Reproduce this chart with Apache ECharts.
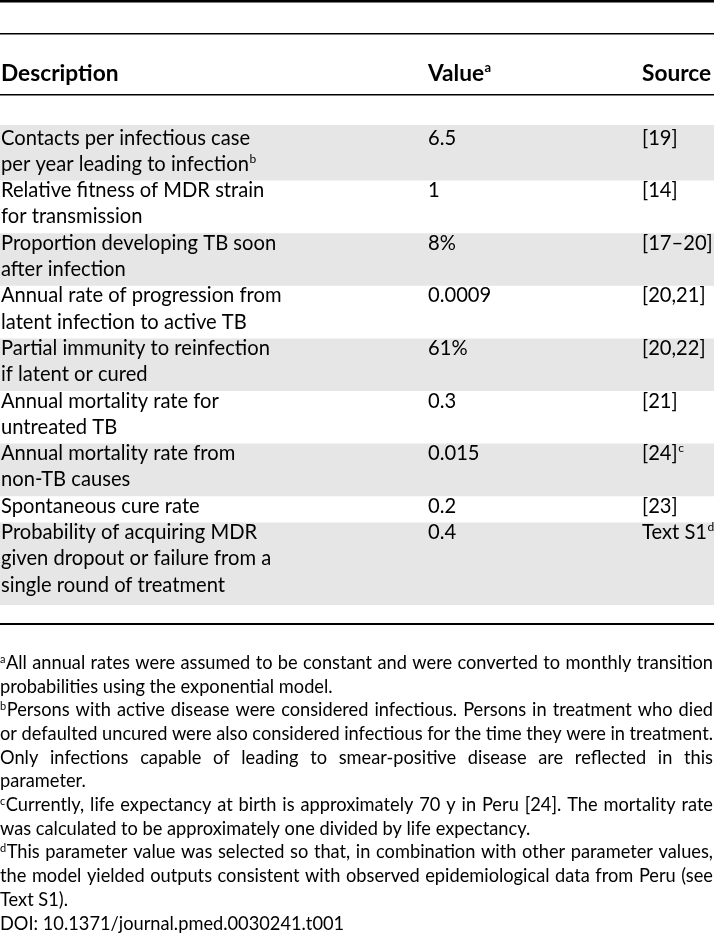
<!DOCTYPE html>
<html><head><meta charset="utf-8">
<script src="https://cdn.jsdelivr.net/npm/echarts@6/dist/echarts.min.js"></script>
<style>html,body{margin:0;padding:0;background:#fff}#c{width:714px;height:938px}</style>
</head><body><div id="c"></div><script>
// ---- table content ----
const headers = ["Description", "Value", "Source"];
const headerNotes = ["", "a", ""];
const descriptions = [
  "Contacts per infectious case\nper year leading to infection",
  "Relative fitness of MDR strain\nfor transmission",
  "Proportion developing TB soon\nafter infection",
  "Annual rate of progression from\nlatent infection to active TB",
  "Partial immunity to reinfection\nif latent or cured",
  "Annual mortality rate for\nuntreated TB",
  "Annual mortality rate from\nnon-TB causes",
  "Spontaneous cure rate",
  "Probability of acquiring MDR\ngiven dropout or failure from a\nsingle round of treatment"
];
const descNotes = ["b", "", "", "", "", "", "", "", ""];
const values = ["6.5", "1", "8%", "0.0009", "61%", "0.3", "0.015", "0.2", "0.4"];
const sources = ["[19]", "[14]", "[17\u201320]", "[20,21]", "[20,22]", "[21]", "[24]", "[23]", "Text S1"];
const sourceNotes = ["", "", "", "", "", "", "c", "", "d"];
const footnoteMarks = ["a", "b", "c", "d"];
const footnoteLines = [
  ["All annual rates were assumed to be constant and were converted to monthly transition",
   "probabilities using the exponential model."],
  ["Persons with active disease were considered infectious. Persons in treatment who died",
   "or defaulted uncured were also considered infectious for the time they were in treatment.",
   "Only infections capable of leading to smear-positive disease are reflected in this",
   "parameter."],
  ["Currently, life expectancy at birth is approximately 70 y in Peru [24]. The mortality rate",
   "was calculated to be approximately one divided by life expectancy."],
  ["This parameter value was selected so that, in combination with other parameter values,",
   "the model yielded outputs consistent with observed epidemiological data from Peru (see",
   "Text S1)."]
];
const doiText = "DOI: 10.1371/journal.pmed.0030241.t001";

// ---- layout helpers ----
const FONT = 'Lato, "Open Sans", sans-serif';
const W = 714;
const cv = document.createElement('canvas').getContext('2d');
function fontStr(size, weight) { return (weight || 'normal') + ' ' + size + 'px ' + FONT; }
function mw(t, size, weight) { cv.font = fontStr(size, weight); return cv.measureText(t).width; }
function midOffset(size, weight) {
  cv.font = fontStr(size, weight);
  const m = cv.measureText('Hg');
  return (m.fontBoundingBoxAscent - m.fontBoundingBoxDescent) / 2;
}
function fit(pairs, weight) {
  let r = 0;
  pairs.forEach(([t, w]) => { r += w / mw(t, 100, weight) * 100; });
  return r / pairs.length;
}
const tableSize = fit([["Contacts per infectious case", 248], ["Partial immunity to reinfection", 266], ["given dropout or failure from a", 275]]);
const headSize = fit([["Description", 118], ["Source", 69]], 'bold');
const footSize = fit([["probabilities using the exponential model.", 341], ["was calculated to be approximately one divided by life expectancy.", 546], [doiText, 326]]);
const supSize = 12;

const els = [];
function txt(t, x, baseline, size, weight) {
  els.push({
    type: 'text', x: x, y: baseline - midOffset(size, weight), silent: true,
    style: { text: t, fontSize: size, fontFamily: FONT, fontWeight: weight || 'normal', fill: '#000',
             align: 'left', verticalAlign: 'middle', textAlign: 'left', textVerticalAlign: 'middle' }
  });
  return x + mw(t, size, weight);
}
function rect(x, y, w, h, color) {
  els.push({ type: 'rect', silent: true, shape: { x: x, y: y, width: w, height: h }, style: { fill: color } });
}
function justify(line, x0, x1, baseline, size) {
  const words = line.split(' ');
  const widths = words.map(w => mw(w, size));
  const total = widths.reduce((a, b) => a + b, 0);
  const gap = (x1 - x0 - total) / (words.length - 1);
  let x = x0;
  words.forEach((w, i) => { txt(w, x, baseline, size); x += widths[i] + gap; });
}

// ---- table geometry ----
const colX = [1, 428, 642];
const LINE = 26.3, ROW0 = 128, BASE0 = 146;

// row shading
let lineIdx = 0;
descriptions.forEach((d, r) => {
  const n = d.split('\n').length;
  let top = ROW0 + LINE * lineIdx, bot = ROW0 + LINE * (lineIdx + n);
  if (r === 0) top = 125;
  if (r === descriptions.length - 1) bot = 605;
  if (r % 2 === 0) rect(0, top, W, bot - top, '#e6e6e6');
  lineIdx += n;
});

// rules
rect(0, 0, W, 2.5, '#000');
rect(0, 33, W, 1.6, '#000');
rect(0, 94, W, 1.6, '#000');
rect(0, 623, W, 2, '#000');

// header
headers.forEach((h, i) => {
  const end = txt(h, colX[i], 82, headSize, 'bold');
  if (headerNotes[i]) txt(headerNotes[i], end + 0.5, 73, 13, 'bold');
});

// body
lineIdx = 0;
descriptions.forEach((d, r) => {
  const lines = d.split('\n');
  const b0 = BASE0 + LINE * lineIdx;
  lines.forEach((ln, j) => {
    const end = txt(ln, colX[0], b0 + LINE * j, tableSize);
    if (j === lines.length - 1 && descNotes[r]) txt(descNotes[r], end + 0.5, b0 + LINE * j - 8.5, supSize);
  });
  txt(values[r], colX[1], b0, tableSize);
  const se = txt(sources[r], colX[2], b0, tableSize);
  if (sourceNotes[r]) txt(sourceNotes[r], se + 0.5, b0 - 8.5, supSize);
  lineIdx += lines.length;
});

// footnotes
const FL = 23.7, FB0 = 670, RIGHT = 713;
let fi = 0;
footnoteLines.forEach((para, p) => {
  para.forEach((ln, j) => {
    const base = FB0 + FL * fi;
    let x0 = 0;
    if (j === 0) x0 = txt(footnoteMarks[p], 0, base - 6.5, 11) + 0.5;
    if (j < para.length - 1) justify(ln, x0, RIGHT, base, footSize);
    else txt(ln, x0, base, footSize);
    fi++;
  });
});
txt(doiText, 0, FB0 + FL * fi, footSize);

const chart = echarts.init(document.getElementById('c'), null, { renderer: 'canvas' });
chart.setOption({ animation: false, backgroundColor: '#fff', graphic: { elements: els } });
</script></body></html>
